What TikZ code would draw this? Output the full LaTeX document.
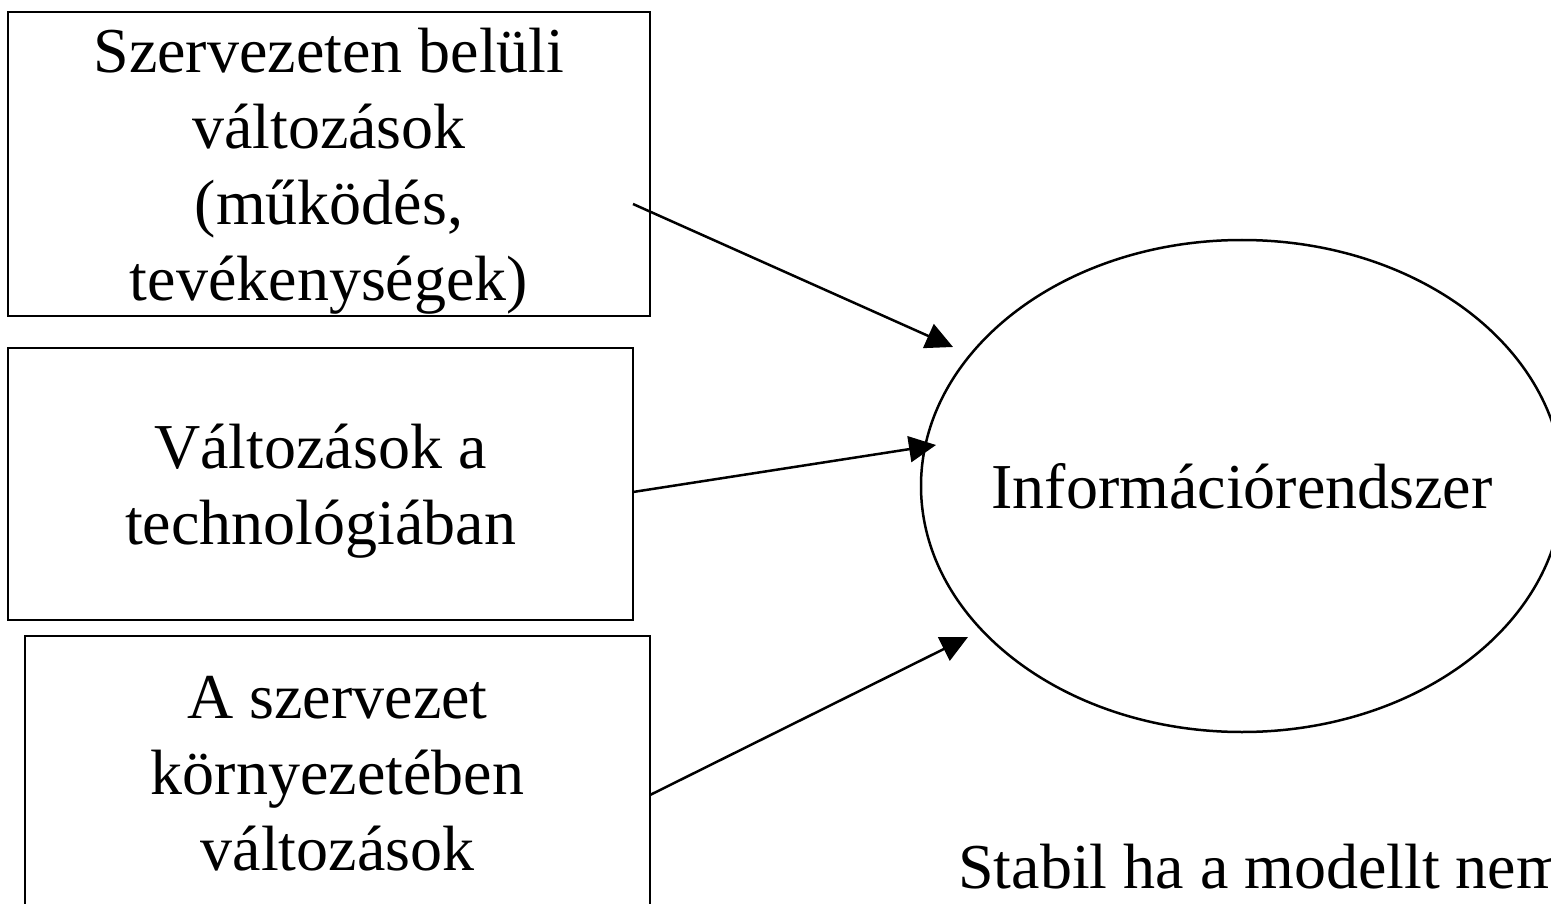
\documentclass[tikz,border=0pt]{standalone}
\usepackage{fontspec}
\setmainfont{Liberation Serif}
\usetikzlibrary{shapes.geometric,arrows.meta}

\begin{document}
\begin{tikzpicture}[x=1pt,y=-1pt,
    every node/.style={font=\fontsize{64}{76}\selectfont},
    box/.style={draw, line width=2.5pt, align=center, inner sep=0pt, text depth=0pt},
    arr/.style={-{Triangle[length=27pt,width=26pt]}, line width=2.5pt}]
        \clip (0,0) rectangle (1551,904);
        \node[box, minimum width=642, minimum height=304] at (329,164) (B1) {Szervezeten belüli\\változások\\(működés,\\tevékenységek)};
        \node[box, minimum width=625, minimum height=272] at (320.5,484) (B2) {Változások a\\technológiában};
        \node[box, minimum width=625, minimum height=274] at (337.5,773) (B3) {A szervezet\\környezetében\\változások};
        \node[draw, ellipse, line width=2.5pt, inner sep=0pt, minimum width=642, minimum height=492] at (1242,486) (IR) {};
        \node at (IR) (IRT) {Információrendszer};
        \node[anchor=base west, inner sep=0pt] at (958,888) (ST) {Stabil ha a modellt nem};

        \coordinate (S1) at (633,204);
        \coordinate (S2) at (633,492);
        \coordinate (S3) at (650,795);
        \coordinate (T1) at (953,347);
        \coordinate (T2) at (936,445);
        \coordinate (T3) at (968,637);

        \draw[arr] (S1) -- (T1);
        \draw[arr] (S2) -- (T2);
        \draw[arr] (S3) -- (T3);
\end{tikzpicture}
\end{document}
